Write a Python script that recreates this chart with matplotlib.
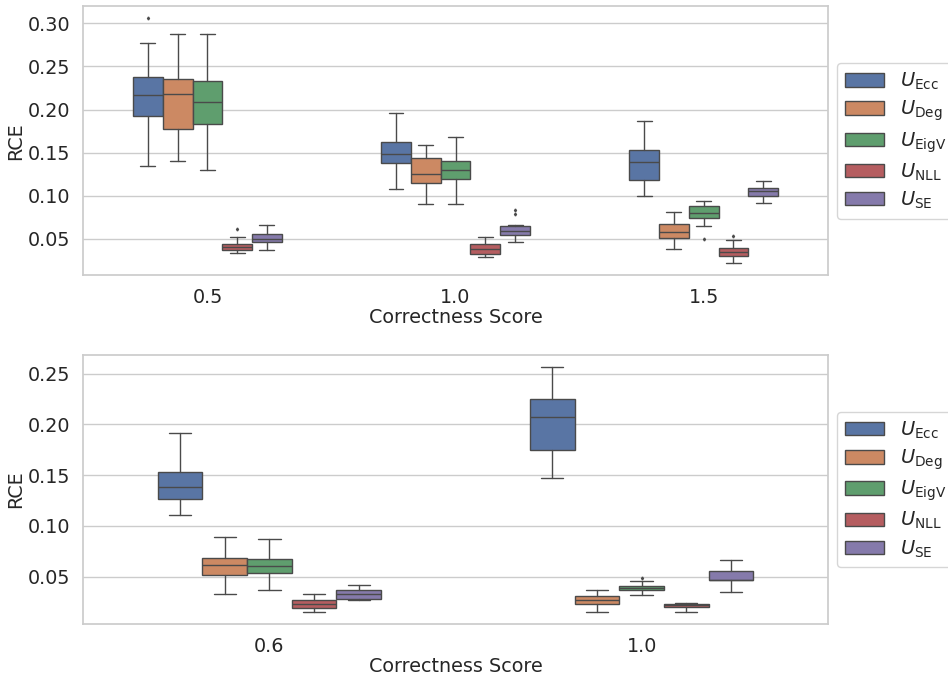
"""Boxplots of RCE by correctness score for each uncertainty measure."""

import matplotlib
matplotlib.use('Agg')  # Non-interactive backend
import matplotlib.pyplot as plt
import seaborn as sns

methods = [r"$U_{\mathrm{Ecc}}$", r"$U_{\mathrm{Deg}}$", r"$U_{\mathrm{EigV}}$",
           r"$U_{\mathrm{NLL}}$", r"$U_{\mathrm{SE}}$"]

# Top panel: one row per method, one column per correctness score
top_cats = ["0.5", "1.0", "1.5"]
top_whislo = [[0.1345, 0.1082, 0.0993], [0.140, 0.090, 0.0378], [0.1303, 0.090, 0.0653],
              [0.0332, 0.0289, 0.0219], [0.0375, 0.0463, 0.0912]]
top_q1 = [[0.1929, 0.1376, 0.1179], [0.1774, 0.1147, 0.0514], [0.1828, 0.119, 0.0746],
          [0.0375, 0.0328, 0.0305], [0.046, 0.0549, 0.0993]]
top_med = [[0.2173, 0.148, 0.1396], [0.218, 0.1256, 0.0579], [0.2092, 0.1298, 0.0796],
           [0.041, 0.0382, 0.0347], [0.0494, 0.0587, 0.1051]]
top_q3 = [[0.2377, 0.1628, 0.1527], [0.235, 0.1442, 0.0676], [0.233, 0.1403, 0.0885],
          [0.0444, 0.044, 0.0393], [0.0556, 0.0645, 0.1094]]
top_whishi = [[0.2776, 0.1964, 0.1867], [0.288, 0.1593, 0.0815], [0.288, 0.1686, 0.0943],
              [0.0521, 0.0525, 0.0483], [0.066, 0.0657, 0.1175]]
top_fliers = [[[0.3058], [], []], [[], [], []], [[], [], [0.0502]],
              [[0.0618], [], [0.0529]], [[], [0.0834, 0.0784], []]]

# Bottom panel
bot_cats = ["0.6", "1.0"]
bot_whislo = [[0.1109, 0.1476], [0.0329, 0.0155], [0.0368, 0.0319], [0.0155, 0.0155], [0.0273, 0.0345]]
bot_q1 = [[0.1263, 0.1751], [0.0516, 0.0227], [0.0531, 0.0368], [0.0191, 0.0197], [0.028, 0.0467]]
bot_med = [[0.1381, 0.2069], [0.0614, 0.0273], [0.060, 0.0391], [0.0231, 0.0221], [0.0329, 0.047]]
bot_q3 = [[0.1534, 0.2246], [0.0683, 0.0312], [0.0673, 0.0404], [0.027, 0.0234], [0.0364, 0.0551]]
bot_whishi = [[0.1918, 0.2561], [0.0886, 0.0364], [0.0866, 0.0457], [0.0329, 0.0237], [0.0413, 0.0659]]
bot_fliers = [[[], []], [[], []], [[], [0.0483]], [[], []], [[], []]]

sns.set_theme(style="whitegrid")
palette = [sns.desaturate(c, 0.75) for c in sns.color_palette("deep", len(methods))]
LINE = "#4a4a4a"
FS = 13.8


def draw_panel(ax, cats, whislo, q1, med, q3, whishi, fliers):
    n = len(methods)
    width = 0.6 / n
    for j in range(n):
        stats = []
        for i in range(len(cats)):
            stats.append({"whislo": whislo[j][i], "q1": q1[j][i], "med": med[j][i],
                          "q3": q3[j][i], "whishi": whishi[j][i], "fliers": fliers[j][i]})
        positions = [i + (j - (n - 1) / 2) * width for i in range(len(cats))]
        ax.bxp(stats, positions=positions, widths=width, patch_artist=True,
               manage_ticks=False,
               boxprops=dict(facecolor=palette[j], edgecolor=LINE, linewidth=1.0),
               medianprops=dict(color=LINE, linewidth=1.0),
               whiskerprops=dict(color=LINE, linewidth=1.0),
               capprops=dict(color=LINE, linewidth=1.0),
               capwidths=width * 0.5,
               flierprops=dict(marker='d', markersize=1.5, markerfacecolor=LINE,
                               markeredgecolor=LINE, linestyle='none'))
    ax.set_xlim(-0.5, len(cats) - 0.5)
    ax.set_xticks(range(len(cats)))
    ax.set_xticklabels(cats)
    ax.grid(False, axis='x')
    ax.tick_params(labelsize=FS)
    ax.set_xlabel("Correctness Score", fontsize=FS, labelpad=0.5)
    ax.set_ylabel("RCE", fontsize=FS, labelpad=1.5)
    handles = [plt.Rectangle((0, 0), 1, 1, facecolor=palette[j], edgecolor=LINE, linewidth=1.0)
               for j in range(len(methods))]
    ax.legend(handles, methods, loc='center left', bbox_to_anchor=(1.0, 0.5),
              fontsize=14, handlelength=2.0, labelspacing=0.35)


fig = plt.figure(figsize=(9.48, 6.78), dpi=100)
ax_top = fig.add_axes([0.0879, 0.594, 0.7852, 0.397])
ax_bot = fig.add_axes([0.0879, 0.080, 0.7852, 0.396])

draw_panel(ax_top, top_cats, top_whislo, top_q1, top_med, top_q3, top_whishi, top_fliers)
draw_panel(ax_bot, bot_cats, bot_whislo, bot_q1, bot_med, bot_q3, bot_whishi, bot_fliers)

ax_top.set_yticks([0.05, 0.10, 0.15, 0.20, 0.25, 0.30])
ax_bot.set_yticks([0.05, 0.10, 0.15, 0.20, 0.25])
ax_top.yaxis.set_major_formatter(matplotlib.ticker.FormatStrFormatter('%.2f'))
ax_bot.yaxis.set_major_formatter(matplotlib.ticker.FormatStrFormatter('%.2f'))

plt.savefig("out.png", dpi=100)
plt.close()
